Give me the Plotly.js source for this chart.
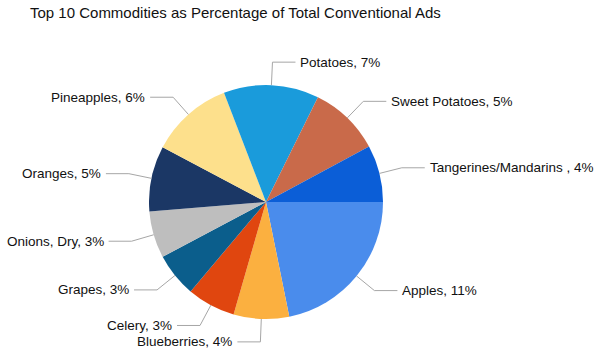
<!DOCTYPE html>
<html>
<head>
<meta charset="utf-8">
<script src="https://cdn.plot.ly/plotly-3.0.1.min.js"></script>
<style>html,body{margin:0;padding:0;background:#fff;}#chart{width:600px;height:352px;}</style>
</head>
<body>
<div id="chart"></div>
<script>
// Data
const categories = ["Apples", "Blueberries", "Celery", "Grapes", "Onions, Dry", "Oranges", "Pineapples", "Potatoes", "Sweet Potatoes", "Tangerines/Mandarins "];
const shares = [11.1, 3.9, 3.4, 3.1, 3.3, 4.6, 5.8, 6.7, 5.0, 4.0];
const colors = ["#4A8CEC", "#FBB040", "#E0460F", "#0B5E8C", "#BEBEBE", "#1B3765", "#FDE08C", "#1A9BDB", "#C96A4A", "#0B5ED7"];

// Geometry (pixels)
const W = 600, H = 352;
const cx = 266, cy = 202, R = 117;
const elbowR = 140, armLen = 23, gap = 3;
const labelFont = {family: "Liberation Sans, Arial, sans-serif", size: 13.5, color: "#111"};

const total = shares.reduce((a, b) => a + b, 0);
const shapes = [];
const annotations = [];
let cum = 0;
const px = x => x / W;
const py = y => 1 - y / H;
shares.forEach((v, i) => {
  const mid = (cum + v / 2) / total * 2 * Math.PI; // clockwise from 3 o'clock
  cum += v;
  const c = Math.cos(mid), s = Math.sin(mid);
  const x0 = cx + R * c, y0 = cy + R * s;
  const x1 = cx + elbowR * c, y1 = cy + elbowR * s;
  const dir = c >= 0 ? 1 : -1;
  const x2 = x1 + dir * armLen;
  shapes.push({
    type: "path", xref: "paper", yref: "paper",
    path: `M ${px(x0)} ${py(y0)} L ${px(x1)} ${py(y1)} L ${px(x2)} ${py(y1)}`,
    line: {color: "#A6A6A6", width: 1}
  });
  annotations.push({
    xref: "paper", yref: "paper",
    x: px(x2 + dir * gap), y: py(y1),
    xanchor: dir > 0 ? "left" : "right", yanchor: "middle",
    text: categories[i] + ", " + Math.round(v) + "%",
    showarrow: false, font: labelFont
  });
});

const trace = {
  type: "pie",
  labels: categories,
  values: shares,
  sort: false,
  direction: "clockwise",
  rotation: 90,
  marker: {colors: colors, line: {width: 0}},
  textinfo: "none",
  hoverinfo: "label+value",
  showlegend: false,
  domain: {x: [(cx - R) / W, (cx + R) / W], y: [1 - (cy + R) / H, 1 - (cy - R) / H]}
};

const layout = {
  width: W, height: H,
  margin: {l: 0, r: 0, t: 0, b: 0},
  paper_bgcolor: "#fff",
  title: {
    text: "Top 10 Commodities as Percentage of Total Conventional Ads",
    font: {family: "Liberation Sans, Arial, sans-serif", size: 15, color: "#111"},
    x: 30 / W, xanchor: "left", xref: "container",
    y: 1 - 13 / H, yanchor: "middle", yref: "container"
  },
  shapes: shapes,
  annotations: annotations,
  showlegend: false
};

Plotly.newPlot("chart", [trace], layout, {displayModeBar: false, staticPlot: true});
</script>
</body>
</html>
